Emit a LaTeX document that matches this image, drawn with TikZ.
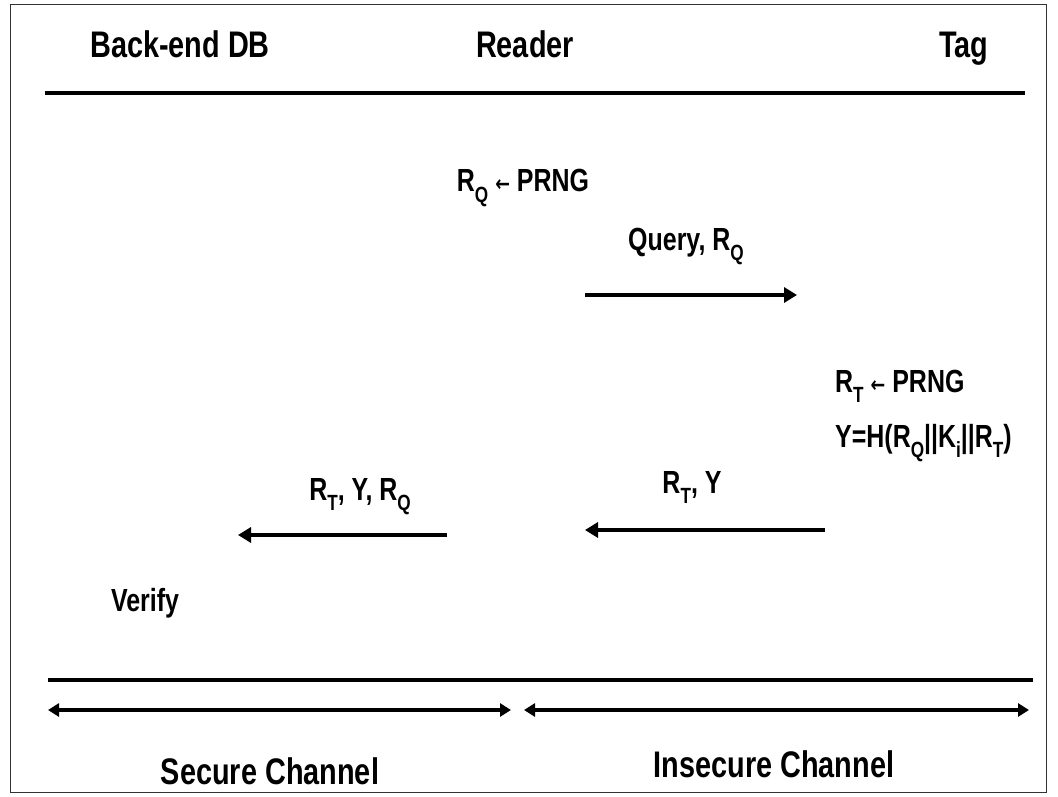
\documentclass[tikz,border=0pt]{standalone}
\usepackage{fontspec}
\setmainfont{Liberation Sans}[FakeStretch=0.78]
\newfontfamily\symfont{DejaVu Sans}[FakeStretch=0.8]
\usetikzlibrary{arrows.meta}
\newcommand\sbs[1]{\raisebox{-0.6ex}{\fontsize{22}{22}\selectfont #1}}
\newcommand\lar{{\symfont\fontsize{22}{22}\selectfont ←}}
\tikzset{
  head/.style={font=\bfseries\fontsize{37}{40}\selectfont, inner sep=0pt, anchor=base},
  lbl/.style={font=\bfseries\fontsize{32}{34}\selectfont, inner sep=0pt, anchor=base},
  msg/.style={line width=4.5pt, -{Triangle[length=13pt,width=15pt]}},
  rule/.style={line width=3.5pt},
  chan/.style={line width=3.5pt, {Triangle[length=11pt,width=13pt]}-{Triangle[length=11pt,width=13pt]}},
}
\begin{document}
\begin{tikzpicture}[x=1pt,y=-1pt]
\useasboundingbox (0,0) rectangle (1058,797);
\draw[line width=1pt, black!80] (10,5) rectangle (1046,792);
% headers
\node[head] (db) at (180,58) {Back-end DB};
\node[head] (rd) at (525,58) {Reader};
\node[head] (tg) at (964,58) {Tag};
\coordinate (t1) at (45,93);
\coordinate (t2) at (1025,93);
\draw[rule] (t1) -- (t2);
% reader nonce
\node[lbl] (rq) at (523,192) {R\sbs{Q} \lar{} PRNG};
% query
\node[lbl] (qlbl) at (686,250) {Query, R\sbs{Q}};
\coordinate (q1) at (585,295);
\coordinate (q2) at (797,295);
\draw[msg] (q1) -- (q2);
% tag computation
\node[lbl, anchor=base west] (rt) at (835,392) {R\sbs{T} \lar{} PRNG};
\node[lbl, anchor=base west] (y) at (835,447) {Y=H(R\sbs{Q}||K\sbs{i}||R\sbs{T})};
% tag reply
\node[lbl] (rty) at (692,493) {R\sbs{T}, Y};
\coordinate (a1) at (825,530);
\coordinate (a2) at (585,530);
\draw[msg] (a1) -- (a2);
% reader forwards
\node[lbl] (fw) at (360,500) {R\sbs{T}, Y, R\sbs{Q}};
\coordinate (b1) at (447,535);
\coordinate (b2) at (238,535);
\draw[msg] (b1) -- (b2);
% verify
\node[lbl] (vf) at (145,611) {Verify};
% bottom
\coordinate (l1) at (48,680);
\coordinate (l2) at (1033,680);
\draw[rule] (l1) -- (l2);
\coordinate (s1) at (48,710);
\coordinate (s2) at (511,710);
\coordinate (i1) at (524,710);
\coordinate (i2) at (1029,710);
\draw[chan] (s1) -- (s2);
\draw[chan] (i1) -- (i2);
\node[head] (sc) at (270,784) {Secure Channel};
\node[head] (ic) at (774,777) {Insecure Channel};
\end{tikzpicture}
\end{document}
